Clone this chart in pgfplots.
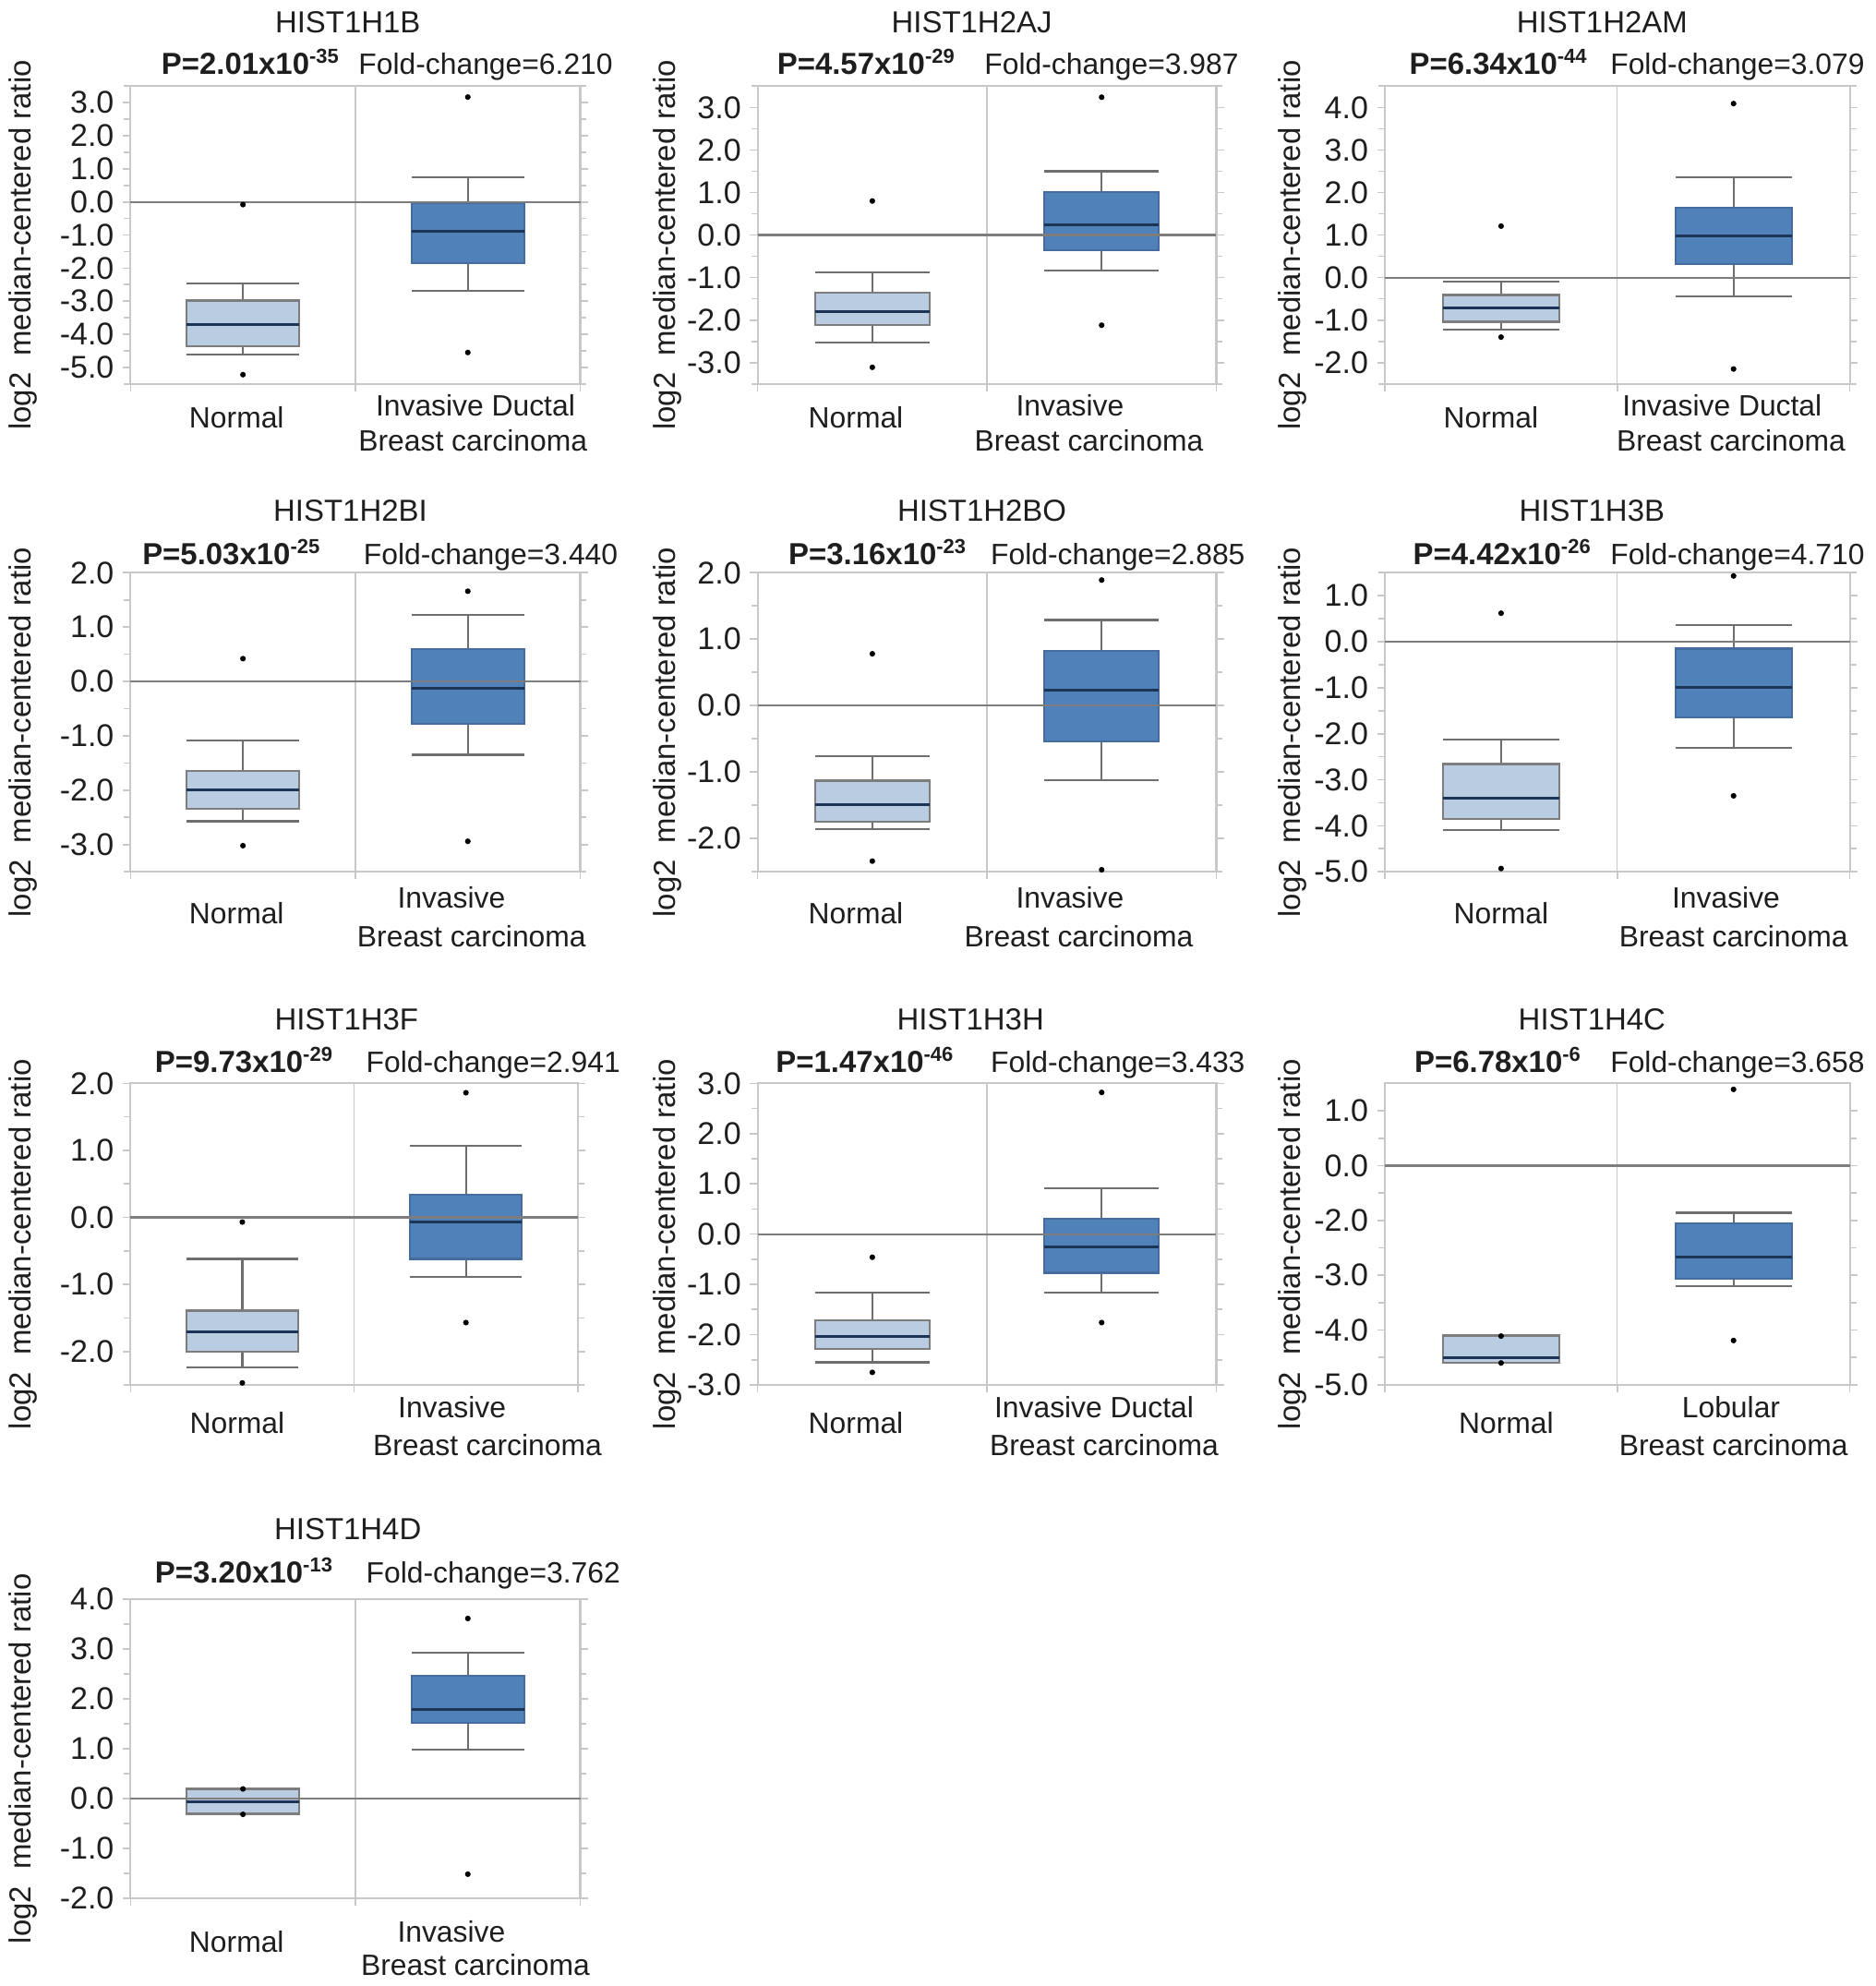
\documentclass[border=0pt]{standalone}
\usepackage{fontspec}
\setmainfont{Liberation Sans}
\usepackage{pgfplots}
\pgfplotsset{compat=1.18}
\usepgfplotslibrary{statistics}
\definecolor{normfill}{RGB}{185,204,226}
\definecolor{normdraw}{RGB}{125,125,125}
\definecolor{invfill}{RGB}{80,130,185}
\definecolor{invdraw}{RGB}{68,108,158}
\definecolor{medc}{RGB}{28,52,86}
\definecolor{whisk}{RGB}{110,110,110}
\definecolor{framec}{RGB}{200,200,200}
\definecolor{zeroc}{RGB}{125,125,125}
\definecolor{txt}{RGB}{30,30,30}
\newcommand\fs{\fontsize{11.6}{13.8}\selectfont}
\newcommand\tfs{\fontsize{12.4}{14}\selectfont}
\tikzset{lab/.style={anchor=base, font=\fs, text=txt}}
\pgfplotsset{
 hpanel/.style={
  scale only axis, anchor=north west,
  xmin=0, xmax=2, xtick={0,1,2}, xticklabels={},
  xtick pos=left,
  xmajorgrids, major grid style={draw=framec, line width=0.5pt},
  axis line style={draw=framec, line width=0.8pt},
  ytick distance=1, minor y tick num=1,
  tick align=outside,
  major tick length=3pt, minor tick length=2.5pt,
  tick style={draw=framec, line width=0.6pt},
  yticklabel style={font=\tfs, text=txt, /pgf/number format/fixed, /pgf/number format/fixed zerofill, /pgf/number format/precision=1, /pgf/number format/assume math mode=true},
  clip=false,
 },
}
\newcommand\nbox[6]{\addplot[boxplot prepared={draw direction=y, lower whisker=#1, lower quartile=#2, median=#3, upper quartile=#4, upper whisker=#5, draw position=0.5, box extend=0.5, whisker extend=0.5},
 boxplot/every box/.style={draw=normdraw, fill=normfill, line width=0.8pt},
 boxplot/every median/.style={draw=medc, line width=1.1pt},
 boxplot/every whisker/.style={draw=whisk, line width=0.8pt},
 mark=*, mark size=0.9pt, mark options={draw=black, fill=black}] coordinates {#6};}
\newcommand\ibox[6]{\addplot[boxplot prepared={draw direction=y, lower whisker=#1, lower quartile=#2, median=#3, upper quartile=#4, upper whisker=#5, draw position=1.5, box extend=0.5, whisker extend=0.5},
 boxplot/every box/.style={draw=invdraw, fill=invfill, line width=0.8pt},
 boxplot/every median/.style={draw=medc, line width=1.1pt},
 boxplot/every whisker/.style={draw=whisk, line width=0.8pt},
 mark=*, mark size=0.9pt, mark options={draw=black, fill=black}] coordinates {#6};}
\newcommand\zline{\addplot[draw=zeroc, line width=0.8pt, mark=none] coordinates {(0,0) (2,0)};}
\newcommand\ttl[3]{\node[lab, font=\fontsize{12}{14}\selectfont] at ([xshift=#1pt,yshift=#2pt]rel axis cs:0.5,1) {#3};}
\newcommand\pline[6]{%
 \node[anchor=base west, inner sep=0pt, font=\fontsize{12}{14}\selectfont\bfseries, text=txt] at ([xshift=#1pt,yshift=#3pt]rel axis cs:0,1) {P=#4x10\textsuperscript{-#5}};
 \node[anchor=base east, inner sep=0pt, font=\fs, text=txt] at ([xshift=#2pt,yshift=#3pt]rel axis cs:0,1) {Fold-change=#6};}
\newcommand\ylab[1]{\node[rotate=90, font=\fontsize{12}{14}\selectfont, text=txt] at ([xshift=#1pt,yshift=-4pt]rel axis cs:0,0.5) {log2\hspace{0.55em}median-centered ratio};}
\newcommand\xlabs[7]{%
 \node[lab] at ([xshift=#1pt,yshift=-#5pt]rel axis cs:0.25,0) {Normal};
 \node[lab] at ([xshift=#3pt,yshift=-#6pt]rel axis cs:0.75,0) {#2};
 \node[lab] at ([xshift=#4pt,yshift=-#7pt]rel axis cs:0.75,0) {Breast carcinoma};}
\begin{document}
\begin{tikzpicture}
\useasboundingbox (0,0) rectangle (740pt,-783.7pt);
% Row 1
\begin{axis}[hpanel, at={(51.5pt,-34pt)}, width=177.5pt, height=117.5pt, ymin=-5.5, ymax=3.5]
\nbox{-4.62}{-4.35}{-3.70}{-2.98}{-2.47}{(0,-0.08) (0,-5.22)}
\ibox{-2.68}{-1.86}{-0.88}{-0.04}{0.74}{(0,3.17) (0,-4.55)}
\zline
\ttl{-3}{21}{HIST1H1B}
\pline{12}{190.5}{4.75}{2.01}{35}{6.210}
\ylab{-42.5}
\xlabs{-2.5}{Invasive Ductal}{3}{2}{17.5}{12.5}{26.5}
\end{axis}
\begin{axis}[hpanel, at={(299pt,-34pt)}, width=181pt, height=117.5pt, ymin=-3.5, ymax=3.5]
\nbox{-2.53}{-2.12}{-1.81}{-1.35}{-0.88}{(0,0.80) (0,-3.11)}
\ibox{-0.83}{-0.35}{0.25}{1.01}{1.50}{(0,3.24) (0,-2.12)}
\zline
\ttl{-6}{21}{HIST1H2AJ}
\pline{7.5}{190}{4.75}{4.57}{29}{3.987}
\ylab{-35.5}
\xlabs{-6.5}{Invasive}{-12.5}{-5}{17.5}{12.5}{26.5}
\end{axis}
\begin{axis}[hpanel, at={(546.5pt,-34pt)}, width=183.5pt, height=117.5pt, ymin=-2.5, ymax=4.5]
\nbox{-1.22}{-1.04}{-0.71}{-0.41}{-0.09}{(0,1.21) (0,-1.40)}
\ibox{-0.45}{0.31}{0.97}{1.65}{2.35}{(0,4.09) (0,-2.15)}
\zline
\ttl{-6}{21}{HIST1H2AM}
\pline{9.5}{189.5}{4.75}{6.34}{44}{3.079}
\ylab{-36.5}
\xlabs{-4}{Invasive Ductal}{-4.5}{-1}{17.5}{12.5}{26.5}
\end{axis}
% Row 2
\begin{axis}[hpanel, at={(51.5pt,-226pt)}, width=177.5pt, height=118pt, ymin=-3.5, ymax=2.0]
\nbox{-2.57}{-2.34}{-2.00}{-1.65}{-1.08}{(0,0.42) (0,-3.02)}
\ibox{-1.35}{-0.78}{-0.13}{0.59}{1.23}{(0,1.66) (0,-2.94)}
\zline
\ttl{-2}{20.5}{HIST1H2BI}
\pline{4.5}{192.5}{3.25}{5.03}{25}{3.440}
\ylab{-42.5}
\xlabs{-2.5}{Invasive}{-6.5}{1.5}{20.5}{14.5}{29.5}
\end{axis}
\begin{axis}[hpanel, at={(299pt,-226pt)}, width=181pt, height=118pt, ymin=-2.5, ymax=2.0]
\nbox{-1.86}{-1.75}{-1.49}{-1.13}{-0.76}{(0,0.78) (0,-2.34)}
\ibox{-1.12}{-0.54}{0.23}{0.82}{1.29}{(0,1.89) (0,-2.47)}
\zline
\ttl{-2}{20.5}{HIST1H2BO}
\pline{12}{192.5}{3.25}{3.16}{23}{2.885}
\ylab{-35.5}
\xlabs{-6.5}{Invasive}{-12.5}{-9}{20.5}{14.5}{29.5}
\end{axis}
\begin{axis}[hpanel, at={(546.5pt,-226pt)}, width=183.5pt, height=118pt, ymin=-5.0, ymax=1.5]
\nbox{-4.09}{-3.85}{-3.40}{-2.66}{-2.12}{(0,0.62) (0,-4.93)}
\ibox{-2.31}{-1.64}{-0.99}{-0.15}{0.36}{(0,1.43) (0,-3.35)}
\zline
\ttl{-10}{20.5}{HIST1H3B}
\pline{11}{189.5}{3.25}{4.42}{26}{4.710}
\ylab{-36.5}
\xlabs{0}{Invasive}{-3}{0}{20.5}{14.5}{29.5}
\end{axis}
% Row 3
\begin{axis}[hpanel, at={(51.5pt,-427.5pt)}, width=176.5pt, height=119pt, ymin=-2.5, ymax=2.0]
\nbox{-2.24}{-2.00}{-1.71}{-1.39}{-0.62}{(0,-0.07) (0,-2.47)}
\ibox{-0.89}{-0.62}{-0.07}{0.34}{1.07}{(0,1.86) (0,-1.57)}
\zline
\ttl{-3}{21}{HIST1H3F}
\pline{9.5}{193.5}{4.25}{9.73}{29}{2.941}
\ylab{-42.5}
\xlabs{-2}{Invasive}{-5.5}{8.5}{19}{13}{28}
\end{axis}
\begin{axis}[hpanel, at={(299pt,-427.5pt)}, width=181pt, height=119pt, ymin=-3.0, ymax=3.0]
\nbox{-2.55}{-2.29}{-2.04}{-1.72}{-1.17}{(0,-0.46) (0,-2.75)}
\ibox{-1.17}{-0.77}{-0.26}{0.30}{0.91}{(0,2.82) (0,-1.76)}
\zline
\ttl{-6.5}{21}{HIST1H3H}
\pline{7}{192.5}{4.25}{1.47}{46}{3.433}
\ylab{-35.5}
\xlabs{-6.5}{Invasive Ductal}{-3}{1}{19}{13}{28}
\end{axis}
\begin{axis}[hpanel, at={(546.5pt,-427.5pt)}, width=183.5pt, height=119pt, ymin=-4.0, ymax=1.5,
  ytick={-4,-3,-2,-1,0,1}, yticklabels={-5.0,-4.0,-3.0,-2.0,0.0,1.0}]
\nbox{-3.60}{-3.60}{-3.50}{-3.10}{-3.10}{(0,-3.11) (0,-3.60)}
\ibox{-2.20}{-2.06}{-1.67}{-1.06}{-0.86}{(0,1.39) (0,-3.19)}
\zline
\ttl{-10}{21}{HIST1H4C}
\pline{11.5}{189.5}{4.25}{6.78}{6}{3.658}
\ylab{-36.5}
\xlabs{2}{Lobular}{-1}{0}{19}{13}{28}
\end{axis}
% Row 4
\begin{axis}[hpanel, at={(51.5pt,-631pt)}, width=177.5pt, height=118pt, ymin=-2.0, ymax=4.0]
\nbox{-0.31}{-0.31}{-0.06}{0.19}{0.19}{(0,0.19) (0,-0.32)}
\ibox{0.98}{1.51}{1.79}{2.46}{2.92}{(0,3.61) (0,-1.52)}
\zline
\ttl{-3}{23.5}{HIST1H4D}
\pline{9.5}{193.5}{6.25}{3.20}{13}{3.762}
\ylab{-42.5}
\xlabs{-2.5}{Invasive}{-6.5}{3}{21.5}{17.5}{30.5}
\end{axis}
\end{tikzpicture}
\end{document}
